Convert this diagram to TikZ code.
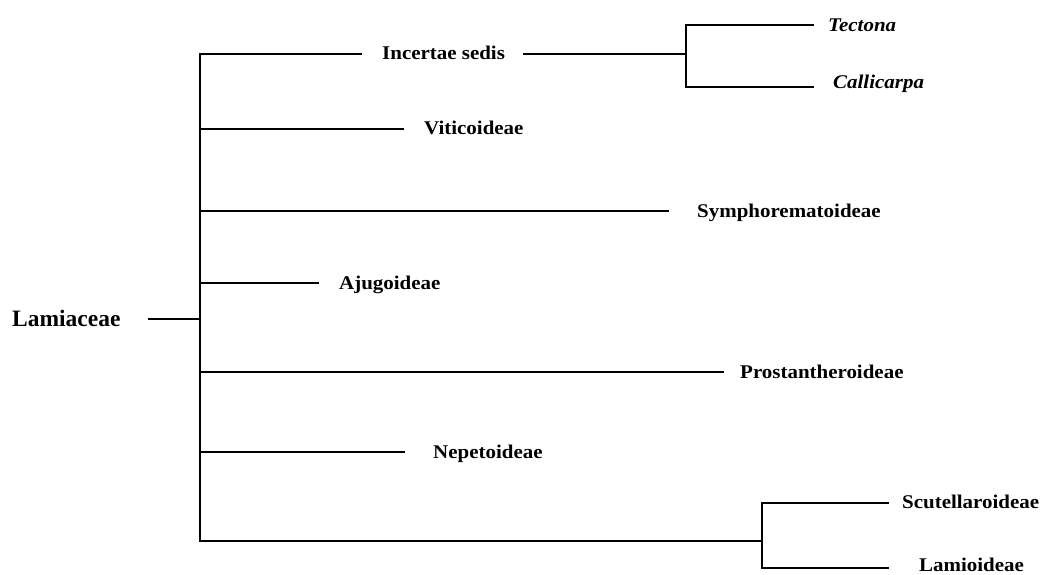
\documentclass[tikz,border=0pt]{standalone}
\usepackage{fontspec}
\setmainfont{Liberation Serif}[FakeStretch=1.08]
\newfontfamily\rootfont{Liberation Serif}
\begin{document}
\begin{tikzpicture}[x=1pt,y=-1pt,
  branch/.style={line width=1.8pt,line cap=rect},
  taxon/.style={anchor=base west,inner sep=0pt,font=\fontsize{19.4}{22}\selectfont\bfseries},
  genus/.style={taxon,font=\fontsize{19.4}{22}\selectfont\bfseries\itshape},
  rootlabel/.style={anchor=base west,inner sep=0pt,font=\rootfont\fontsize{23.5}{26}\selectfont\bfseries}]
\useasboundingbox (0,0) rectangle (1040,574);

% labels
\node[rootlabel] (lam) at (12,326) {Lamiaceae};
\node[taxon] (inc) at (382,59) {Incertae sedis};
\node[genus] (tec) at (828,31) {Tectona};
\node[genus] (cal) at (833,88) {Callicarpa};
\node[taxon] (vit) at (424,134) {Viticoideae};
\node[taxon] (sym) at (697,217) {Symphorematoideae};
\node[taxon] (aju) at (339,289) {Ajugoideae};
\node[taxon] (pro) at (740,378) {Prostantheroideae};
\node[taxon] (nep) at (433,458) {Nepetoideae};
\node[taxon] (scu) at (902,508) {Scutellaroideae};
\node[taxon] (lmd) at (919,571) {Lamioideae};

% junctions and line ends
\coordinate (r0) at (149,319);
\coordinate (j0) at (200,319);
\coordinate (j0t) at (200,54);
\coordinate (j0b) at (200,541);
\coordinate (incL) at (361,54);
\coordinate (incR) at (524,54);
\coordinate (j1) at (686,54);
\coordinate (tecE) at (813,25);
\coordinate (calE) at (813,87);
\coordinate (vitE) at (403,129);
\coordinate (symE) at (668,211);
\coordinate (ajuE) at (318,283);
\coordinate (proE) at (723,372);
\coordinate (nepE) at (404,452);
\coordinate (j2) at (762,541);
\coordinate (scuE) at (888,503);
\coordinate (lmdE) at (888,568);

% tree
\draw[branch] (r0) -- (j0);
\draw[branch] (j0t) -- (j0b);
\draw[branch] (j0t) -- (incL);
\draw[branch] (incR) -- (j1);
\draw[branch] (j1) |- (tecE);
\draw[branch] (j1) |- (calE);
\draw[branch] (j0 |- vitE) -- (vitE);
\draw[branch] (j0 |- symE) -- (symE);
\draw[branch] (j0 |- ajuE) -- (ajuE);
\draw[branch] (j0 |- proE) -- (proE);
\draw[branch] (j0 |- nepE) -- (nepE);
\draw[branch] (j0b) -- (j2);
\draw[branch] (j2) |- (scuE);
\draw[branch] (j2) |- (lmdE);
\end{tikzpicture}
\end{document}
